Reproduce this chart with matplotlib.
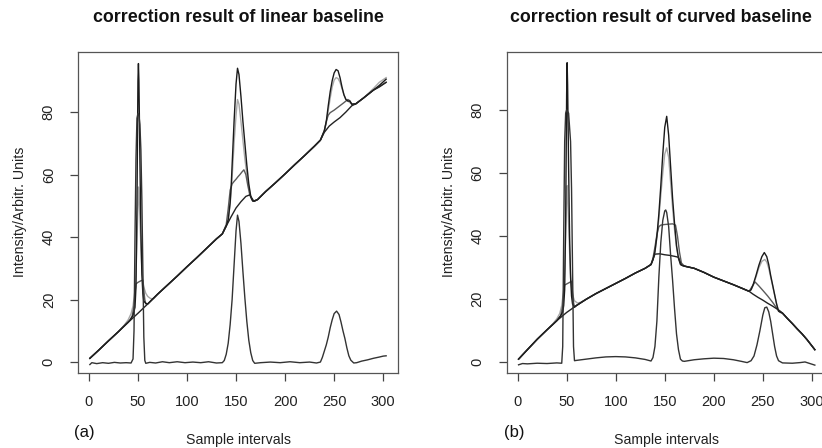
import matplotlib
matplotlib.use("Agg")
import matplotlib.pyplot as plt

plt.rcParams['font.family'] = ['Liberation Sans', 'DejaVu Sans']

# ---- panel (a): linear baseline ----
lin_base_x = [1, 10, 20, 30, 40, 50, 60, 70, 80, 90, 100, 110, 120, 130, 136, 140, 145, 150, 155, 160, 164, 168,
              172, 180, 190, 200, 210, 220, 230, 236, 240, 245, 250, 256, 262, 268, 272, 280, 290, 296, 303]
lin_base_y = [1.2, 3.8, 6.8, 9.7, 12.7, 15.6, 18.6, 21.7, 24.6, 27.5, 30.5, 33.4, 36.4, 39.4, 41.0, 43.5, 46.5, 49.3,
              51.3, 53.0, 53.5, 51.5, 52.0, 54.5, 57.3, 60.2, 63.2, 66.1, 69.1, 71.0, 73.5, 75.5, 76.8, 78.2, 80.0,
              82.0, 82.6, 84.5, 87.0, 88.0, 89.5]

lin_a_x = [1, 10, 20, 30, 38, 42, 45, 47, 48, 49, 50, 50.5, 51, 52, 53, 54, 55, 56, 58, 60, 70, 80, 90, 100, 110, 120,
           130, 136, 140, 142, 144, 145, 146, 148, 150, 151.5, 153, 155, 157, 159, 161, 163, 165, 167, 169, 172, 180,
           190, 200, 210, 220, 230, 236, 240, 242, 244, 246, 248, 250, 252, 254, 256, 258, 260, 262, 264, 266, 268,
           272, 280, 290, 296, 303]
lin_a_y = [1.2, 3.8, 6.8, 9.7, 12.2, 13.4, 15.0, 17.5, 24, 50, 90, 95.5, 90, 65, 42, 28, 22, 19.5, 18.8, 18.6, 21.7,
           24.6, 27.5, 30.5, 33.4, 36.4, 39.4, 41.0, 43.5, 45.5, 51, 56, 63, 77, 89, 94, 92, 85, 77, 70, 63, 57, 53,
           51.5, 51.5, 52.0, 54.5, 57.3, 60.2, 63.2, 66.1, 69.1, 71.0, 74, 77, 82, 86.5, 90, 92.5, 93.6, 93.2, 91, 88,
           85.5, 84, 83.5, 83.5, 82.5, 82.6, 84.5, 87.0, 88.5, 90.5]

lin_b_x = [1, 10, 20, 30, 36, 40, 43, 45, 47, 48, 49, 50, 50.5, 51, 52, 53, 54, 55, 56, 58, 60, 63, 66, 70, 80, 90,
           100, 110, 120, 130, 136, 140, 142, 144, 146, 148, 150, 151.5, 153, 155, 157, 159, 161, 163, 165, 167, 169,
           172, 180, 190, 200, 210, 220, 230, 236, 240, 242, 244, 246, 248, 250, 252, 254, 256, 258, 260, 262, 264,
           266, 268, 272, 280, 290, 296, 303]
lin_b_y = [1.2, 3.8, 6.8, 9.7, 11.8, 13.5, 15.5, 18, 23, 28, 38, 50, 56, 54, 46, 37, 30, 26, 24, 22, 21, 20.3, 20.3,
           21.7, 24.6, 27.5, 30.5, 33.4, 36.4, 39.4, 41.0, 43.5, 45.5, 50.5, 59, 70, 79, 84, 82.5, 77, 71, 65, 60, 56,
           53, 51.5, 51.5, 52.0, 54.5, 57.3, 60.2, 63.2, 66.1, 69.1, 71.0, 74, 76.5, 80.5, 84.5, 88, 90.2, 91, 90.7,
           89.5, 87.5, 85.5, 84, 83.5, 83, 82.5, 82.6, 84.5, 87.5, 89.5, 91]

lin_c_x = [1, 10, 20, 30, 40, 44, 46, 47, 48, 50, 53, 55, 56, 57, 58, 60, 70, 80, 90, 100, 110, 120, 130, 136, 140,
           142, 144, 146, 148, 150, 152, 154, 156, 158, 160, 162, 164, 166, 168, 172, 180, 190, 200, 210, 220, 230,
           236, 240, 242, 244, 246, 250, 255, 260, 264, 266, 268, 272, 280, 290, 303]
lin_c_y = [1.2, 3.8, 6.8, 9.7, 12.7, 14.5, 18, 22, 25, 25.5, 26, 26.2, 23, 20, 18.6, 18.6, 21.7, 24.6, 27.5, 30.5,
           33.4, 36.4, 39.4, 41.0, 44, 49, 55, 57, 57.8, 58.5, 59.3, 60, 60.8, 61.5, 60, 56.5, 53.5, 52, 51.5, 52.0,
           54.5, 57.3, 60.2, 63.2, 66.1, 69.1, 71.0, 74, 77, 79, 79.8, 80.6, 81.8, 83, 84, 83.6, 82.5, 82.6, 84.5,
           87.0, 89.5]

lin_corr_x = [1, 3, 8, 14, 20, 26, 32, 38, 43, 45, 46, 47, 48, 49, 50, 51, 52, 53, 54, 55, 56, 57, 58, 62, 68, 75,
              82, 90, 98, 106, 114, 122, 130, 136, 138, 140, 142, 144, 146, 148, 150, 151.5, 153, 155, 157, 159,
              161, 163, 165, 167, 169, 175, 185, 195, 205, 215, 225, 232, 236, 238, 240, 242, 244, 246, 248, 250,
              252.5, 255, 257, 259, 261, 263, 265, 267, 270, 273, 278, 284, 290, 296, 300, 303]
lin_corr_y = [-0.8, -0.2, -0.5, -0.2, -0.4, -0.1, -0.3, -0.2, -0.3, 1, 10, 40, 65, 78, 79.5, 79, 76, 68, 52, 30, 8,
              0.5, -0.4, -0.1, -0.3, 0.1, -0.2, 0.1, -0.2, 0, -0.2, 0.1, -0.3, -0.2, 0.5, 2.5, 6, 12, 20, 31, 42, 47,
              45, 38, 29, 20.5, 13, 7, 3, 0.5, -0.4, -0.2, 0, -0.2, 0.1, -0.2, 0, -0.3, 0, 1.5, 3.5, 5.5, 8, 11,
              13.5, 15.5, 16.3, 15.2, 12.8, 10, 7.5, 4.5, 2, 0.6, -0.3, -0.2, 0.3, 0.7, 1.2, 1.6, 1.9, 2.0]

# ---- panel (b): curved baseline ----
crv_base_x = [1, 10, 20, 30, 40, 50, 60, 70, 80, 90, 100, 110, 120, 130, 136, 140, 145, 150, 155, 160, 164, 167,
              170, 180, 190, 200, 210, 220, 230, 236, 240, 245, 250, 255, 260, 265, 270, 275, 280, 285, 290, 295,
              300, 303]
crv_base_y = [1.0, 4.0, 7.3, 10.3, 13.2, 15.8, 18.0, 20.0, 21.8, 23.4, 25.0, 26.6, 28.3, 29.8, 31.0, 34.3, 34.4,
              34.1, 33.9, 33.6, 33.3, 30.8, 30.5, 29.8, 28.5, 27.0, 25.8, 24.6, 23.3, 22.5, 21.6, 20.6, 19.7, 18.7,
              17.8, 16.8, 15.6, 13.9, 12.3, 10.6, 9.0, 7.2, 5.2, 4.0]

crv_a_x = [1, 10, 20, 30, 36, 40, 44, 46, 47, 48, 49, 50, 50.5, 51, 52, 53, 54, 55, 56, 58, 60, 70, 80, 90, 100, 110,
           120, 130, 136, 138, 140, 142, 144, 146, 148, 150, 152, 154, 156, 158, 160, 162, 164, 166, 168, 170, 180,
           190, 200, 210, 220, 230, 236, 238, 240, 243, 246, 249, 251.5, 254, 256, 258, 260, 262, 264, 266, 268,
           270, 275, 280, 285, 290, 295, 300, 303]
crv_a_y = [1.0, 4.0, 7.3, 10.3, 12.0, 13.2, 14.8, 16, 18, 23, 45, 85, 95, 88, 62, 40, 27, 21, 18.5, 17.5, 18.0, 20.0,
           21.8, 23.4, 25.0, 26.6, 28.3, 29.8, 31.0, 32.5, 35, 40, 47, 56, 66, 74.5, 78, 72, 62, 52, 44, 37, 33, 31,
           30.7, 30.5, 29.8, 28.5, 27.0, 25.8, 24.6, 23.3, 22.5, 23, 24.5, 27.5, 30.8, 33.5, 34.8, 33.5, 31, 27.5,
           24.5, 21.5, 18.5, 16.2, 15.8, 15.6, 13.9, 12.3, 10.6, 9.0, 7.2, 5.2, 4.0]

crv_b_x = [1, 10, 20, 30, 36, 40, 43, 45, 47, 48, 49, 50, 50.5, 51, 52, 53, 54, 55, 56, 58, 61, 64, 70, 80, 90, 100,
           110, 120, 130, 136, 138, 140, 142, 144, 146, 148, 150, 152, 154, 156, 158, 160, 162, 164, 166, 168, 170,
           180, 190, 200, 210, 220, 230, 236, 238, 240, 243, 246, 249, 252, 254, 256, 258, 260, 262, 264, 266, 268,
           270, 275, 280, 285, 290, 295, 300, 303]
crv_b_y = [1.0, 4.0, 7.3, 10.3, 12.2, 13.8, 15.5, 18, 23, 29, 40, 52, 56, 53, 44, 35, 28, 24, 21.5, 19.5, 18.8, 19,
           20.0, 21.8, 23.4, 25.0, 26.6, 28.3, 29.8, 31.0, 32.5, 35, 39.5, 45.5, 53, 60, 66, 68, 65, 57, 49, 42,
           36.5, 33, 31.3, 30.7, 30.5, 29.8, 28.5, 27.0, 25.8, 24.6, 23.3, 22.5, 23, 24.3, 27, 30, 32, 32.6, 31.8,
           29.8, 27, 24.2, 21.3, 18.5, 16.3, 15.9, 15.6, 13.9, 12.3, 10.6, 9.0, 7.2, 5.2, 4.0]

crv_c_x = [1, 10, 20, 30, 40, 44, 46, 47, 48, 51, 54, 55, 56, 57, 58, 60, 70, 80, 90, 100, 110, 120, 130, 136, 138,
           140, 142, 144, 146, 150, 154, 158, 161, 163, 165, 167, 170, 180, 190, 200, 210, 220, 230, 236, 239, 242,
           246, 250, 255, 260, 265, 270, 275, 280, 285, 290, 295, 300, 303]
crv_c_y = [1.0, 4.0, 7.3, 10.3, 13.2, 14.8, 18, 22, 24.5, 25, 25.5, 25.7, 22, 19, 17.5, 18.0, 20.0, 21.8, 23.4, 25.0,
           26.6, 28.3, 29.8, 31.0, 33, 36.5, 40.5, 43, 43.5, 43.7, 43.8, 43.9, 43.5, 40, 35, 31.5, 30.5, 29.8, 28.5,
           27.0, 25.8, 24.6, 23.3, 22.5, 24, 25.5, 24.2, 22.8, 21, 19, 16.8, 15.6, 13.9, 12.3, 10.6, 9.0, 7.2, 5.2,
           4.0]

crv_corr_x = [1, 5, 10, 20, 30, 40, 45, 46, 47, 48, 49, 50, 52, 54, 55, 56, 57, 58, 60, 70, 80, 90, 100, 110, 120,
              130, 136, 138, 140, 142, 144, 146, 148, 150, 151, 152, 154, 156, 158, 160, 162, 164, 166, 168, 170, 180,
              190, 200, 210, 220, 228, 234, 238, 241, 244, 247, 250, 252, 254, 256, 258, 260, 262, 264, 266, 270,
              280, 288, 293, 298, 303]
crv_corr_y = [-0.8, -0.4, -0.5, -0.3, -0.4, -0.2, -0.3, 5, 40, 70, 79, 80, 79, 70, 55, 30, 5, 0.5, 0.6, 1.0, 1.4,
              1.7, 1.8, 1.7, 1.4, 0.9, 0.4, 1.5, 5, 13, 27, 38, 45, 48, 48.3, 47.5, 43, 34, 26, 17, 9, 4, 1, 0.4, 0.3,
              0.8, 1.1, 1.3, 1.2, 0.8, 0.3, -0.1, 0.5, 2, 5.5, 10, 15, 17.3, 17.5, 16, 13, 9, 5, 2, 0.5, -0.2, -0.3,
              -0.1, 0.1, -0.4, -0.9]

x_ticks = [0, 50, 100, 150, 200, 250, 300]
y_ticks = [0, 20, 40, 60, 80]

fig = plt.figure(figsize=(8.22, 4.48), dpi=100)


def panel(rect, ylim, curves, base, corr):
    ax = fig.add_axes(rect)
    bx, by = base
    cx, cy = corr
    (ax_, ay), (bbx, bby), (ccx, ccy) = curves
    ax.plot(bbx, bby, color='#a8a8a8', lw=1.0)
    ax.plot(ccx, ccy, color='#5a5a5a', lw=1.0)
    ax.plot(ax_, ay, color='#1a1a1a', lw=1.0)
    ax.plot(bx, by, color='#222222', lw=1.0)
    ax.plot(cx, cy, color='#333333', lw=1.0)
    ax.set_xlim(-11.1, 315.1)
    ax.set_ylim(*ylim)
    ax.set_xticks(x_ticks)
    ax.set_yticks(y_ticks)
    ax.tick_params(direction='out', length=6, width=0.9, color='#444444', labelsize=10.5, labelcolor='#222222')
    ax.tick_params(axis='x', pad=10)
    ax.tick_params(axis='y', pad=10, labelrotation=90)
    for lab in ax.get_yticklabels():
        lab.set_verticalalignment('center')
    for s in ax.spines.values():
        s.set_color('#555555')
        s.set_linewidth(0.9)
    return ax


panel([78 / 822, 75 / 448, 320 / 822, 321 / 448], (-3.5, 99.2),
      [(lin_a_x, lin_a_y), (lin_b_x, lin_b_y), (lin_c_x, lin_c_y)],
      (lin_base_x, lin_base_y), (lin_corr_x, lin_corr_y))
panel([506.7 / 822, 75 / 448, 320 / 822, 321 / 448], (-3.4, 98.4),
      [(crv_a_x, crv_a_y), (crv_b_x, crv_b_y), (crv_c_x, crv_c_y)],
      (crv_base_x, crv_base_y), (crv_corr_x, crv_corr_y))

# titles and labels
fig.text(238 / 822, 1 - 18 / 448, 'correction result of linear baseline', ha='center', va='center',
         fontsize=12.8, fontweight='bold', color='#111111')
fig.text(661 / 822, 1 - 18 / 448, 'correction result of curved baseline', ha='center', va='center',
         fontsize=12.8, fontweight='bold', color='#111111')
fig.text(238 / 822, 1 - 440 / 448, 'Sample intervals', ha='center', va='center', fontsize=10.2, color='#222222')
fig.text(666 / 822, 1 - 440 / 448, 'Sample intervals', ha='center', va='center', fontsize=10.2, color='#222222')
fig.text(20 / 822, 1 - 212 / 448, 'Intensity/Arbitr. Units', ha='center', va='center', rotation=90,
         fontsize=10.2, color='#222222')
fig.text(449 / 822, 1 - 212 / 448, 'Intensity/Arbitr. Units', ha='center', va='center', rotation=90,
         fontsize=10.2, color='#222222')
fig.text(74 / 822, 1 - 432 / 448, '(a)', ha='left', va='center', fontsize=12, color='#111111')
fig.text(504 / 822, 1 - 432 / 448, '(b)', ha='left', va='center', fontsize=12, color='#111111')

fig.savefig('out.png', dpi=100)
